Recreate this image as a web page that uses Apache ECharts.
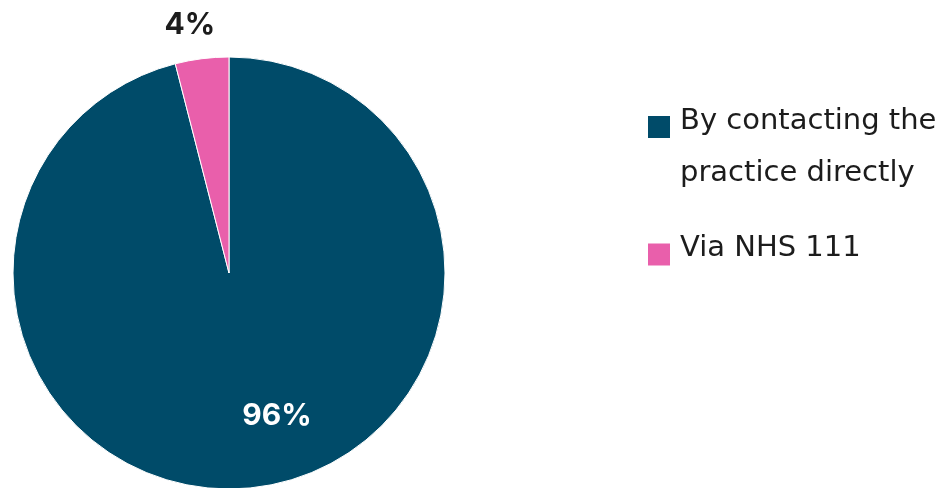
<!DOCTYPE html>
<html>
<head>
<meta charset="utf-8">
<script src="https://cdn.jsdelivr.net/npm/echarts@6/dist/echarts.min.js"></script>
<style>
  html, body { margin: 0; padding: 0; background: #ffffff; }
  #chart { width: 946px; height: 488px; }
</style>
</head>
<body>
<div id="chart"></div>
<script>
// How patients got an appointment
const categories = ['By contacting the practice directly', 'Via NHS 111'];
const shares = [96, 4];
const colors = ['#004b69', '#e95fab'];

const LABEL_FONT = 'Inter, "Noto Sans", sans-serif';
const LEGEND_FONT = '"DejaVu Sans", "Noto Sans", sans-serif';
const TEXT = '#1c1c1c';

// Legend text: lines of 52px, with spacer lines so the first line of each
// entry sits level with its colour swatch
function legendText(name) {
  const words = name.split(' ');
  if (words.length <= 3) return '{t|' + name + '}\n{tail| }';
  return '{head| }\n{t|' + words.slice(0, 3).join(' ') + '}\n{t|' + words.slice(3).join(' ') + '}';
}

const chart = echarts.init(document.getElementById('chart'), null, { renderer: 'canvas' });

const pieData = categories.map((c, i) => ({
  name: c,
  value: shares[i],
  itemStyle: { color: colors[i] },
  label: i === 0
    ? { position: 'inside', color: '#ffffff' }
    : { position: 'outside', color: TEXT }
}));

const legendTextStyle = {
  fontFamily: LEGEND_FONT,
  fontSize: 29,
  color: TEXT,
  padding: [0, 0, 0, 4],
  rich: {
    t: { fontFamily: LEGEND_FONT, fontSize: 29, color: TEXT, lineHeight: 52 },
    head: { fontSize: 10, lineHeight: 40 },
    tail: { fontSize: 10, lineHeight: 12 }
  }
};

const legendBase = {
  orient: 'vertical',
  left: 646,
  padding: 0,
  itemWidth: 24,
  itemHeight: 24,
  icon: 'rect',
  selectedMode: false,
  formatter: legendText,
  textStyle: legendTextStyle
};

chart.setOption({
  animation: false,
  backgroundColor: '#ffffff',
  legend: [
    Object.assign({}, legendBase, { top: 70, data: [categories[0]] }),
    Object.assign({}, legendBase, { top: 234, data: [categories[1]] })
  ],
  series: [{
    type: 'pie',
    center: [229, 273],
    radius: [0, 216],
    startAngle: 90,
    clockwise: true,
    silent: true,
    itemStyle: { borderColor: '#ffffff', borderWidth: 1 },
    label: {
      show: true,
      formatter: p => p.value + '%',
      fontFamily: LABEL_FONT,
      fontSize: 30,
      fontWeight: 'bold'
    },
    labelLine: { show: false, length: 30, length2: 0 },
    labelLayout: p => (p.dataIndex === 0 ? { dx: 34, dy: 33 } : { dx: 22, dy: -4 }),
    data: pieData
  }]
});
</script>
</body>
</html>
